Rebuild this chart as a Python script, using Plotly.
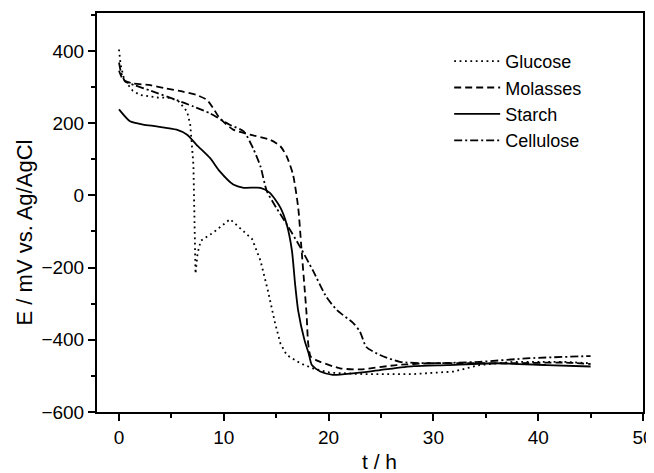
import plotly.graph_objects as go

# ---- data ----
glucose_t = [0, 0.15, 0.5, 1.3, 2.0, 3.6, 4.9, 5.7, 6.5, 6.8, 7.1, 7.3, 7.5, 7.8, 9.0, 10.6, 12.7, 13.5,
             14.2, 14.9, 15.4, 16.0, 17.3, 18.5, 20.1, 23.3, 28.1, 31.9, 34.4, 37.6, 42.4, 45]
glucose_E = [404, 362, 320, 290, 278, 271, 270, 260, 232, 195, 85, -217, -160, -126, -103, -66, -121, -181,
             -263, -355, -410, -442, -465, -479, -491, -495, -495, -488, -470, -461, -461, -465]

molasses_t = [0, 0.4, 1.3, 3.0, 4.5, 6.1, 7.4, 8.4, 9.0, 9.6, 10.9, 12.5, 14.4, 15.4, 16.0, 16.6, 17.1,
              17.4, 17.7, 17.9, 18.05, 18.3, 19.2, 21.1, 23.0, 26.5, 29.7, 32.9, 37.6, 42.4, 45]
molasses_E = [345, 320, 310, 305, 296, 287, 278, 264, 241, 214, 182, 168, 154, 136, 108, 58, -34,
              -144, -254, -330, -410, -447, -461, -479, -482, -470, -465, -465, -465, -463, -467]

starch_t = [0, 1.05, 2.3, 3.6, 5.5, 6.5, 7.4, 8.7, 9.6, 10.9, 11.9, 13.5, 14.4, 15.4, 16.0, 16.5, 16.8,
            17.1, 17.7, 18.1, 18.4, 19.2, 20.4, 22.3, 24.9, 28.1, 31.3, 36.0, 40.8, 45]
starch_E = [238, 205, 196, 191, 182, 168, 140, 103, 67, 30, 21, 21, 7, -34, -80, -153, -245,
            -320, -401, -438, -470, -488, -497, -493, -484, -473, -470, -465, -470, -474]

cellulose_t = [0, 0.2, 0.6, 1.5, 3.0, 5.5, 7.1, 8.7, 10.6, 11.9, 12.8, 13.5, 14.1, 15.0, 16.0, 17.3,
               18.5, 19.8, 20.8, 22.4, 23.0, 23.6, 24.9, 26.8, 29.7, 34.4, 39.2, 45]
cellulose_E = [368, 340, 315, 305, 290, 264, 246, 227, 195, 177, 130, 80, 12, -34, -80, -144,
               -208, -282, -318, -355, -378, -420, -442, -461, -465, -461, -451, -445]

series = [
    ("Glucose", glucose_t, glucose_E, "1.8px,3.6px", "linear"),
    ("Molasses", molasses_t, molasses_E, "7px,4px", "spline"),
    ("Starch", starch_t, starch_E, "solid", "spline"),
    ("Cellulose", cellulose_t, cellulose_E, "8px,3px,2px,3px", "spline"),
]

x_ticks = [0, 10, 20, 30, 40, 50]
y_ticks = [-600, -400, -200, 0, 200, 400]
x_title = "t / h"
y_title = "E / mV vs. Ag/AgCl"

FONT = "Liberation Sans, Arial, Helvetica, sans-serif"

fig = go.Figure()
for name, t, e, dash, shape in series:
    fig.add_trace(go.Scatter(
        x=t, y=e, name=name, mode="lines",
        line=dict(color="black", width=1.8, dash=dash, shape=shape,
                  smoothing=0.6 if shape == "spline" else None),
    ))

axis_common = dict(
    showline=True, linecolor="black", linewidth=2, mirror=True,
    ticks="outside", ticklen=7, tickwidth=1.6, tickcolor="black",
    showgrid=False, zeroline=False, automargin=False,
    tickfont=dict(family=FONT, size=19, color="black"),
)

fig.update_xaxes(
    range=[-2.1, 50], tickvals=x_ticks,
    minor=dict(dtick=5, tick0=0, ticks="outside", ticklen=4, tickwidth=1.6, tickcolor="black"),
    **axis_common,
)
fig.update_yaxes(
    range=[-600, 505], tickvals=y_ticks,
    minor=dict(dtick=100, tick0=0, ticks="outside", ticklen=4, tickwidth=1.6, tickcolor="black"),
    **axis_common,
)

# axis titles as annotations so they can sit where the reference places them
fig.add_annotation(text=y_title, textangle=-90, xref="paper", yref="paper",
                   x=-0.133, y=0.451, xanchor="center", yanchor="middle", showarrow=False,
                   font=dict(family=FONT, size=22, color="black"))
fig.add_annotation(text=x_title, xref="paper", yref="paper",
                   x=0.517, y=-0.125, xanchor="center", yanchor="middle", showarrow=False,
                   font=dict(family=FONT, size=21, color="black"))

# page body has an 8px default margin, so the figure is sized to fit inside the window
fig.update_layout(
    width=646, height=465,
    margin=dict(l=89, r=11, t=5, b=61, autoexpand=False),
    plot_bgcolor="white", paper_bgcolor="white",
    font=dict(family=FONT, color="black"),
    legend=dict(
        x=0.645, y=0.925, xanchor="left", yanchor="top",
        bgcolor="rgba(0,0,0,0)", borderwidth=0,
        font=dict(family=FONT, size=18, color="black"),
        itemwidth=46, tracegroupgap=0,
    ),
    showlegend=True,
)

fig.write_html("out.html")
